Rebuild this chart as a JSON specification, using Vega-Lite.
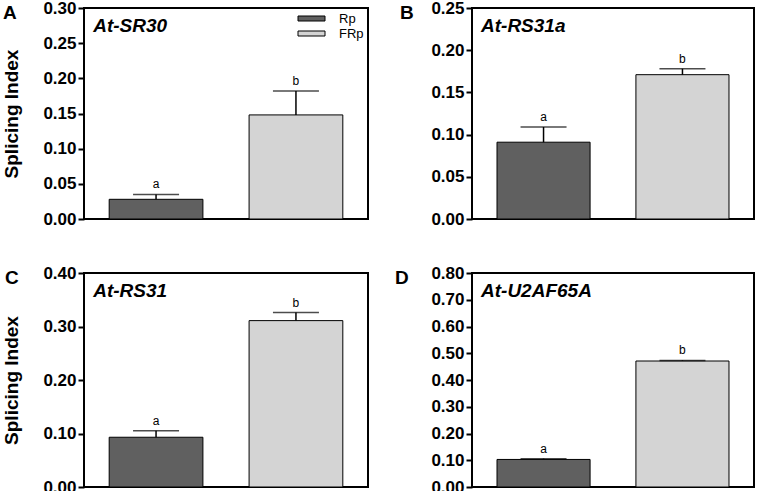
{
  "$schema": "https://vega.github.io/schema/vega-lite/v6.json",
  "padding": {"top": -2, "left": 1, "right": 0, "bottom": 0},
  "background": "white",
  "datasets": {
    "bars": [
      {"panel": "A", "cond": "Rp", "mean": 0.028, "upper": 0.035, "letter": "a"},
      {"panel": "A", "cond": "FRp", "mean": 0.148, "upper": 0.182, "letter": "b"},
      {"panel": "B", "cond": "Rp", "mean": 0.091, "upper": 0.109, "letter": "a"},
      {"panel": "B", "cond": "FRp", "mean": 0.171, "upper": 0.178, "letter": "b"},
      {"panel": "C", "cond": "Rp", "mean": 0.093, "upper": 0.105, "letter": "a"},
      {"panel": "C", "cond": "FRp", "mean": 0.311, "upper": 0.326, "letter": "b"},
      {"panel": "D", "cond": "Rp", "mean": 0.103, "upper": 0.106, "letter": "a"},
      {"panel": "D", "cond": "FRp", "mean": 0.471, "upper": 0.473, "letter": "b"}
    ],
    "genes": [
      {"panel": "A", "gene": "At-SR30", "ymax": 0.30},
      {"panel": "B", "gene": "At-RS31a", "ymax": 0.25},
      {"panel": "C", "gene": "At-RS31", "ymax": 0.40},
      {"panel": "D", "gene": "At-U2AF65A", "ymax": 0.80}
    ]
  },
  "columns": 2,
  "bounds": "flush",
  "spacing": {"column": 104, "row": 54},
  "concat": [
    {
      "width": 284, "height": 211,
      "title": {"text": "A", "dx": 0, "dy": 28},
      "encoding": {"x": {"field": "cond", "type": "nominal", "sort": ["Rp", "FRp"], "scale": {"domain": ["Rp", "FRp"], "paddingInner": 0.33, "paddingOuter": 0.18}, "axis": null}},
      "layer": [
        {
          "data": {"name": "bars"},
          "transform": [{"filter": "datum.panel === 'A'"}],
          "mark": {"type": "bar", "stroke": "black", "strokeWidth": 1},
          "encoding": {
            "y": {"field": "mean", "type": "quantitative", "title": "Splicing Index", "scale": {"domain": [0, 0.3], "nice": false}, "axis": {"values": [0, 0.05, 0.1, 0.15, 0.2, 0.25, 0.3], "format": ".2f"}},
            "color": {"field": "cond", "type": "nominal", "scale": {"domain": ["Rp", "FRp"], "range": ["#606060", "#d4d4d4"]},
              "legend": {"orient": "none", "legendX": 221, "legendY": 4, "title": null, "symbolType": "M-5.4,-1H5.4V1H-5.4Z", "symbolSize": 25, "symbolStrokeColor": "black", "symbolStrokeWidth": 1, "labelOffset": 21, "labelFontSize": 13, "labelColor": "black", "rowPadding": 1, "padding": 0}}
          }
        },
        {
          "data": {"name": "bars"},
          "transform": [{"filter": "datum.panel === 'A'"}],
          "mark": {"type": "rule", "color": "black", "strokeWidth": 1.5},
          "encoding": {"y": {"field": "mean", "type": "quantitative", "title": "Splicing Index", "axis": {"values": [0, 0.05, 0.1, 0.15, 0.2, 0.25, 0.3], "format": ".2f"}}, "y2": {"field": "upper"}}
        },
        {
          "data": {"name": "bars"},
          "transform": [{"filter": "datum.panel === 'A'"}],
          "mark": {"type": "tick", "orient": "horizontal", "color": "black", "size": 46, "thickness": 1.5},
          "encoding": {"y": {"field": "upper", "type": "quantitative", "title": "Splicing Index", "axis": {"values": [0, 0.05, 0.1, 0.15, 0.2, 0.25, 0.3], "format": ".2f"}}}
        },
        {
          "data": {"name": "bars"},
          "transform": [{"filter": "datum.panel === 'A'"}],
          "mark": {"type": "text", "baseline": "bottom", "dy": -3, "fontSize": 12, "color": "black"},
          "encoding": {"y": {"field": "upper", "type": "quantitative", "title": "Splicing Index", "axis": {"values": [0, 0.05, 0.1, 0.15, 0.2, 0.25, 0.3], "format": ".2f"}}, "text": {"field": "letter"}}
        },
        {
          "data": {"name": "genes"},
          "transform": [{"filter": "datum.panel === 'A'"}],
          "mark": {"type": "text", "align": "left", "baseline": "top", "dx": -16, "dy": 9, "fontSize": 19, "fontWeight": "bold", "fontStyle": "italic", "color": "black"},
          "encoding": {"x": {"datum": "Rp", "type": "nominal", "bandPosition": 0}, "y": {"field": "ymax", "type": "quantitative", "title": "Splicing Index", "axis": {"values": [0, 0.05, 0.1, 0.15, 0.2, 0.25, 0.3], "format": ".2f"}}, "text": {"field": "gene"}}
        }
      ]
    },
    {
      "width": 282, "height": 211,
      "title": {"text": "B", "dx": -31, "dy": 28},
      "encoding": {"x": {"field": "cond", "type": "nominal", "sort": ["Rp", "FRp"], "scale": {"domain": ["Rp", "FRp"], "paddingInner": 0.33, "paddingOuter": 0.18}, "axis": null}},
      "layer": [
        {
          "data": {"name": "bars"},
          "transform": [{"filter": "datum.panel === 'B'"}],
          "mark": {"type": "bar", "stroke": "black", "strokeWidth": 1},
          "encoding": {
            "y": {"field": "mean", "type": "quantitative", "title": null, "scale": {"domain": [0, 0.25], "nice": false}, "axis": {"values": [0, 0.05, 0.1, 0.15, 0.2, 0.25], "format": ".2f"}},
            "color": {"field": "cond", "type": "nominal", "scale": {"domain": ["Rp", "FRp"], "range": ["#606060", "#d4d4d4"]}, "legend": null}
          }
        },
        {
          "data": {"name": "bars"},
          "transform": [{"filter": "datum.panel === 'B'"}],
          "mark": {"type": "rule", "color": "black", "strokeWidth": 1.5},
          "encoding": {"y": {"field": "mean", "type": "quantitative", "title": null, "axis": {"values": [0, 0.05, 0.1, 0.15, 0.2, 0.25], "format": ".2f"}}, "y2": {"field": "upper"}}
        },
        {
          "data": {"name": "bars"},
          "transform": [{"filter": "datum.panel === 'B'"}],
          "mark": {"type": "tick", "orient": "horizontal", "color": "black", "size": 46, "thickness": 1.5},
          "encoding": {"y": {"field": "upper", "type": "quantitative", "title": null, "axis": {"values": [0, 0.05, 0.1, 0.15, 0.2, 0.25], "format": ".2f"}}}
        },
        {
          "data": {"name": "bars"},
          "transform": [{"filter": "datum.panel === 'B'"}],
          "mark": {"type": "text", "baseline": "bottom", "dy": -3, "fontSize": 12, "color": "black"},
          "encoding": {"y": {"field": "upper", "type": "quantitative", "title": null, "axis": {"values": [0, 0.05, 0.1, 0.15, 0.2, 0.25], "format": ".2f"}}, "text": {"field": "letter"}}
        },
        {
          "data": {"name": "genes"},
          "transform": [{"filter": "datum.panel === 'B'"}],
          "mark": {"type": "text", "align": "left", "baseline": "top", "dx": -16, "dy": 9, "fontSize": 19, "fontWeight": "bold", "fontStyle": "italic", "color": "black"},
          "encoding": {"x": {"datum": "Rp", "type": "nominal", "bandPosition": 0}, "y": {"field": "ymax", "type": "quantitative", "title": null, "axis": {"values": [0, 0.05, 0.1, 0.15, 0.2, 0.25], "format": ".2f"}}, "text": {"field": "gene"}}
        }
      ]
    },
    {
      "width": 284, "height": 214,
      "title": {"text": "C", "dx": 2, "dy": 28},
      "encoding": {"x": {"field": "cond", "type": "nominal", "sort": ["Rp", "FRp"], "scale": {"domain": ["Rp", "FRp"], "paddingInner": 0.33, "paddingOuter": 0.18}, "axis": null}},
      "layer": [
        {
          "data": {"name": "bars"},
          "transform": [{"filter": "datum.panel === 'C'"}],
          "mark": {"type": "bar", "stroke": "black", "strokeWidth": 1},
          "encoding": {
            "y": {"field": "mean", "type": "quantitative", "title": "Splicing Index", "scale": {"domain": [0, 0.4], "nice": false}, "axis": {"values": [0, 0.1, 0.2, 0.3, 0.4], "format": ".2f"}},
            "color": {"field": "cond", "type": "nominal", "scale": {"domain": ["Rp", "FRp"], "range": ["#606060", "#d4d4d4"]}, "legend": null}
          }
        },
        {
          "data": {"name": "bars"},
          "transform": [{"filter": "datum.panel === 'C'"}],
          "mark": {"type": "rule", "color": "black", "strokeWidth": 1.5},
          "encoding": {"y": {"field": "mean", "type": "quantitative", "title": "Splicing Index", "axis": {"values": [0, 0.1, 0.2, 0.3, 0.4], "format": ".2f"}}, "y2": {"field": "upper"}}
        },
        {
          "data": {"name": "bars"},
          "transform": [{"filter": "datum.panel === 'C'"}],
          "mark": {"type": "tick", "orient": "horizontal", "color": "black", "size": 46, "thickness": 1.5},
          "encoding": {"y": {"field": "upper", "type": "quantitative", "title": "Splicing Index", "axis": {"values": [0, 0.1, 0.2, 0.3, 0.4], "format": ".2f"}}}
        },
        {
          "data": {"name": "bars"},
          "transform": [{"filter": "datum.panel === 'C'"}],
          "mark": {"type": "text", "baseline": "bottom", "dy": -3, "fontSize": 12, "color": "black"},
          "encoding": {"y": {"field": "upper", "type": "quantitative", "title": "Splicing Index", "axis": {"values": [0, 0.1, 0.2, 0.3, 0.4], "format": ".2f"}}, "text": {"field": "letter"}}
        },
        {
          "data": {"name": "genes"},
          "transform": [{"filter": "datum.panel === 'C'"}],
          "mark": {"type": "text", "align": "left", "baseline": "top", "dx": -16, "dy": 9, "fontSize": 19, "fontWeight": "bold", "fontStyle": "italic", "color": "black"},
          "encoding": {"x": {"datum": "Rp", "type": "nominal", "bandPosition": 0}, "y": {"field": "ymax", "type": "quantitative", "title": "Splicing Index", "axis": {"values": [0, 0.1, 0.2, 0.3, 0.4], "format": ".2f"}}, "text": {"field": "gene"}}
        }
      ]
    },
    {
      "width": 282, "height": 214,
      "title": {"text": "D", "dx": -36, "dy": 28},
      "encoding": {"x": {"field": "cond", "type": "nominal", "sort": ["Rp", "FRp"], "scale": {"domain": ["Rp", "FRp"], "paddingInner": 0.33, "paddingOuter": 0.18}, "axis": null}},
      "layer": [
        {
          "data": {"name": "bars"},
          "transform": [{"filter": "datum.panel === 'D'"}],
          "mark": {"type": "bar", "stroke": "black", "strokeWidth": 1},
          "encoding": {
            "y": {"field": "mean", "type": "quantitative", "title": null, "scale": {"domain": [0, 0.8], "nice": false}, "axis": {"values": [0, 0.1, 0.2, 0.3, 0.4, 0.5, 0.6, 0.7, 0.8], "format": ".2f"}},
            "color": {"field": "cond", "type": "nominal", "scale": {"domain": ["Rp", "FRp"], "range": ["#606060", "#d4d4d4"]}, "legend": null}
          }
        },
        {
          "data": {"name": "bars"},
          "transform": [{"filter": "datum.panel === 'D'"}],
          "mark": {"type": "rule", "color": "black", "strokeWidth": 1.5},
          "encoding": {"y": {"field": "mean", "type": "quantitative", "title": null, "axis": {"values": [0, 0.1, 0.2, 0.3, 0.4, 0.5, 0.6, 0.7, 0.8], "format": ".2f"}}, "y2": {"field": "upper"}}
        },
        {
          "data": {"name": "bars"},
          "transform": [{"filter": "datum.panel === 'D'"}],
          "mark": {"type": "tick", "orient": "horizontal", "color": "black", "size": 46, "thickness": 1.5},
          "encoding": {"y": {"field": "upper", "type": "quantitative", "title": null, "axis": {"values": [0, 0.1, 0.2, 0.3, 0.4, 0.5, 0.6, 0.7, 0.8], "format": ".2f"}}}
        },
        {
          "data": {"name": "bars"},
          "transform": [{"filter": "datum.panel === 'D'"}],
          "mark": {"type": "text", "baseline": "bottom", "dy": -3, "fontSize": 12, "color": "black"},
          "encoding": {"y": {"field": "upper", "type": "quantitative", "title": null, "axis": {"values": [0, 0.1, 0.2, 0.3, 0.4, 0.5, 0.6, 0.7, 0.8], "format": ".2f"}}, "text": {"field": "letter"}}
        },
        {
          "data": {"name": "genes"},
          "transform": [{"filter": "datum.panel === 'D'"}],
          "mark": {"type": "text", "align": "left", "baseline": "top", "dx": -16, "dy": 9, "fontSize": 19, "fontWeight": "bold", "fontStyle": "italic", "color": "black"},
          "encoding": {"x": {"datum": "Rp", "type": "nominal", "bandPosition": 0}, "y": {"field": "ymax", "type": "quantitative", "title": null, "axis": {"values": [0, 0.1, 0.2, 0.3, 0.4, 0.5, 0.6, 0.7, 0.8], "format": ".2f"}}, "text": {"field": "gene"}}
        }
      ]
    }
  ],
  "resolve": {"scale": {"color": "independent"}, "legend": {"color": "independent"}},
  "config": {
    "font": "Liberation Sans",
    "view": {"stroke": "black", "strokeWidth": 2},
    "axis": {"domain": false, "grid": false, "ticks": true, "labelOverlap": false, "tickColor": "black", "tickWidth": 2, "tickSize": 6, "labelFont": "Liberation Sans", "labelFontSize": 17, "labelFontWeight": "bold", "labelColor": "black", "labelPadding": 2, "titleFont": "Liberation Sans", "titleFontSize": 19, "titleFontWeight": "bold", "titleColor": "black", "titlePadding": 21},
    "title": {"fontSize": 19, "fontWeight": "bold", "anchor": "start", "frame": "bounds", "offset": 0, "color": "black", "font": "Liberation Sans", "baseline": "alphabetic"},
    "legend": {"labelFont": "Liberation Sans"}
  }
}
